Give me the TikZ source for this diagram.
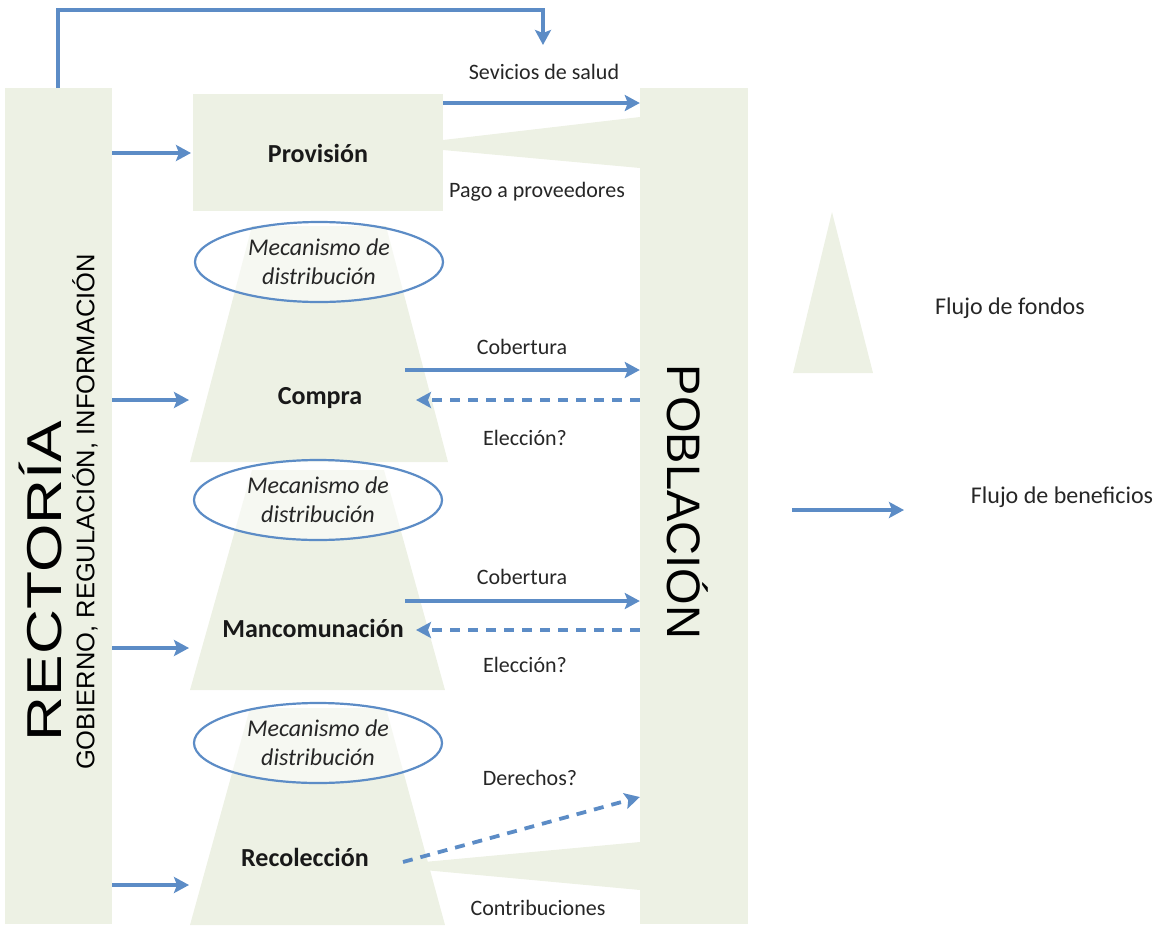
\documentclass[tikz,border=0pt]{standalone}
\usepackage{fontspec}
\setmainfont{Carlito}
\newfontfamily\arialf{Liberation Sans}
\usetikzlibrary{arrows.meta,shapes.geometric}
\definecolor{fundfill}{RGB}{237,241,228}
\definecolor{flowblue}{RGB}{92,140,198}
\begin{document}
\begin{tikzpicture}[x=1pt,y=-1pt,
  bar/.style={fill=fundfill,draw=none,inner sep=0pt},
  fund/.style={fill=fundfill,draw=none},
  benefit/.style={draw=flowblue,line width=3.8pt,-{Stealth[length=15pt,width=16pt,inset=3pt]}},
  choice/.style={benefit,dash pattern=on 10pt off 8pt},
  lbl/.style={font=\fontsize{22}{26}\selectfont,inner sep=0pt,text=black!85},
  stage/.style={font=\bfseries\fontsize{26}{30}\selectfont,inner sep=0pt,text=black!90},
  mech/.style={ellipse,draw=flowblue,line width=2.2pt,fill=white,fill opacity=0.55,text opacity=1,
    minimum width=248pt,minimum height=80pt,inner sep=0pt,align=center,text=black!85,
    font=\itshape\fontsize{24}{29}\selectfont},
  leg/.style={font=\fontsize{24}{28}\selectfont,inner sep=0pt,text=black!85}]
\useasboundingbox (0,0) rectangle (1163,927);

% side bars
\node[bar,minimum width=107pt,minimum height=836pt] (rect) at (58.5,506) {};
\node[bar,minimum width=108pt,minimum height=836pt] (pobl) at (694,506) {};

% funds wedges
\fill[fund] (443,140) -- (640,117) -- (640,168) -- (443,150) -- cycle;
\fill[fund] (424,862) -- (640,842) -- (640,890) -- (424,870) -- cycle;

% trapezoids
\fill[fund] (252,226) -- (386,226) -- (448,462) -- (190,462) -- cycle;
\fill[fund] (252,470) -- (384,470) -- (445,690) -- (190,690) -- cycle;
\fill[fund] (250,708) -- (386,708) -- (445,925) -- (190,925) -- cycle;

% provision box
\node[bar,minimum width=250pt,minimum height=117pt] (prov) at (318,152) {};
\node[stage] (provt) at (318,153) {Provisión};

% ellipses
\node[mech] (m1) at (319,262) {Mecanismo de\\distribución};
\node[mech] (m2) at (318,500) {Mecanismo de\\distribución};
\node[mech] (m3) at (318,743) {Mecanismo de\\distribución};

% stage labels
\node[stage] (compra) at (320,398) {Compra};
\node[stage] (manc) at (313,628) {Mancomunación};
\node[stage] (recol) at (305,857) {Recolección};

% rotated titles
\node[rotate=90,inner sep=0pt] (rt) at (40,581) {\arialf\fontsize{49}{55}\selectfont\scalebox{1.27}[1]{RECTORÍA}};
\node[rotate=90,inner sep=0pt] (rs) at (85,512) {\arialf\fontsize{25.5}{30}\selectfont GOBIERNO, REGULACIÓN, INFORMACIÓN};
\node[rotate=-90,inner sep=0pt] (pt) at (688,502) {\arialf\fontsize{47}{55}\selectfont POBLACIÓN};

% coordinates for connectors
\coordinate (topstart) at (58,88);
\coordinate (topend) at (543,45);
\coordinate (c1a) at (112,153); \coordinate (c1b) at (191,153);
\coordinate (c2a) at (112,400); \coordinate (c2b) at (189,400);
\coordinate (c3a) at (112,648); \coordinate (c3b) at (189,648);
\coordinate (c4a) at (112,885); \coordinate (c4b) at (189,885);

% rectoria arrows
\draw[benefit] (c1a) -- (c1b);
\draw[benefit] (c2a) -- (c2b);
\draw[benefit] (c3a) -- (c3b);
\draw[benefit] (c4a) -- (c4b);

% top arrow
\draw[benefit,line width=3.3pt] (topstart) -- (58,10) -- (543,10) -- (topend);

% services
\draw[benefit] (prov.east |- 0,103) -- (pobl.west |- 0,103);
\node[lbl] (serv) at (544,72) {Sevicios de salud};
\node[lbl] (pago) at (537,192) {Pago a proveedores};

% compra arrows
\draw[benefit] (405,370) -- (pobl.west |- 0,370);
\draw[choice] (pobl.west |- 0,400) -- (416,400);
\node[lbl] (cob1) at (522,347) {Cobertura};
\node[lbl] (ele1) at (525,438) {Elección?};

% mancomunacion arrows
\draw[benefit] (405,601) -- (pobl.west |- 0,601);
\draw[choice] (pobl.west |- 0,630) -- (416,630);
\node[lbl] (cob2) at (522,577) {Cobertura};
\node[lbl] (ele2) at (525,665) {Elección?};

% recoleccion
\node[lbl] (der) at (530,778) {Derechos?};
\draw[choice] (403,862) -- (pobl.west |- 0,797);
\node[lbl] (contr) at (538,908) {Contribuciones};

% legend
\fill[fund] (832,212) -- (873,373) -- (793,373) -- cycle;
\node[leg] (lf) at (1010,308) {Flujo de fondos};
\coordinate (la) at (792,510); \coordinate (lb) at (904,510);
\draw[benefit] (la) -- (lb);
\node[leg] (lben) at (1062,497) {Flujo de beneficios};
\end{tikzpicture}
\end{document}
